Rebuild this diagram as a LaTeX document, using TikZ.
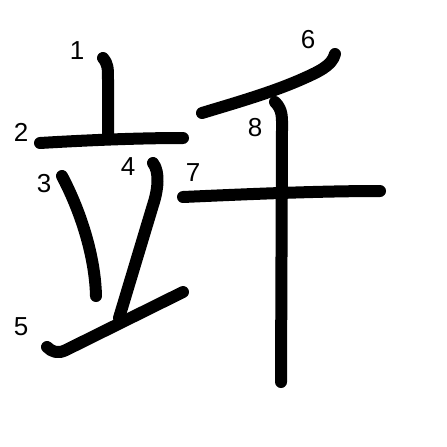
\documentclass[tikz,border=0pt]{standalone}
\usepackage{fontspec}
\setmainfont{Liberation Sans}
\begin{document}
\begin{tikzpicture}[x=1pt,y=-1pt,
  strokeline/.style={line width=12pt,line cap=round,line join=round,black},
  num/.style={font=\fontsize{26}{26}\selectfont,inner sep=0pt,anchor=center}]
\useasboundingbox (0,0) rectangle (447,447);
% stroke 1
\draw[strokeline] (103,58) .. controls (108,64) and (108,68) .. (108,80) -- (108,138);
% stroke 2
\draw[strokeline] (40,143) .. controls (90,140) and (140,138) .. (183,138);
% stroke 3
\draw[strokeline] (62,176) .. controls (80,210) and (95,255) .. (96,296);
% stroke 4
\draw[strokeline] (153,163) .. controls (160,172) and (158,190) .. (153,205) -- (119,318);
% stroke 5
\draw[strokeline] (47,347) .. controls (52,352) and (58,354) .. (66,350) -- (183,292);
% stroke 6
\draw[strokeline] (335,54) .. controls (332,66) and (318,72) .. (300,80) .. controls (270,93) and (235,103) .. (202,113);
% stroke 7
\draw[strokeline] (183,197) .. controls (250,194) and (320,191) .. (380,191);
% stroke 8
\draw[strokeline] (275,102) .. controls (283,110) and (282,118) .. (282,130) -- (281,382);
% numbers
\node[num] (n1) at (77,51) {1};
\node[num] (n2) at (21,132) {2};
\node[num] (n3) at (44,184) {3};
\node[num] (n4) at (128,167) {4};
\node[num] (n5) at (21,327) {5};
\node[num] (n6) at (308,40) {6};
\node[num] (n7) at (193,173) {7};
\node[num] (n8) at (255,128) {8};
\end{tikzpicture}
\end{document}
